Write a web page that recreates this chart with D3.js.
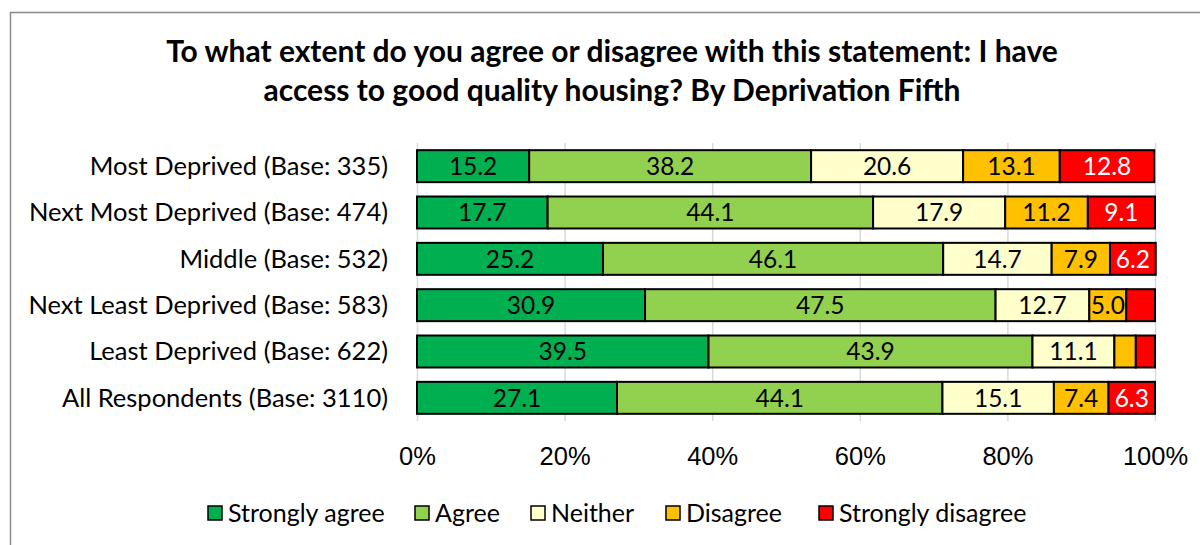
<!DOCTYPE html>
<html>
<head>
<meta charset="utf-8">
<style>
    body { margin: 0; background: #fff; }
    svg { font-family: Lato, 'Open Sans', sans-serif; }
    .grid line { stroke: #d9d9d9; stroke-width: 1.5; }
    .grid .domain { display: none; }
    .x .domain, .x .tick line { display: none; }
    .x .tick text { font-size: 25.5px; fill: #000; }
    .cat { font-size: 25.5px; fill: #000; }
    .title { font-size: 30px; font-weight: 700; fill: #000; }
    .val { font-size: 24.5px; }
    .legend text { font-size: 25px; fill: #000; }
</style>
</head>
<body>
<svg width="1200" height="545"></svg>
<script src="https://d3js.org/d3.v7.min.js"></script>
<script>
    let categories = [
        "Most Deprived (Base: 335)",
        "Next Most Deprived (Base: 474)",
        "Middle (Base: 532)",
        "Next Least Deprived (Base: 583)",
        "Least Deprived (Base: 622)",
        "All Respondents (Base: 3110)"
    ]
    let seriesNames = ["Strongly agree", "Agree", "Neither", "Disagree", "Strongly disagree"]
    let seriesColors = ["#00b050", "#92d050", "#ffffcc", "#ffc000", "#ff0000"]

    let stronglyAgree = [15.2, 17.7, 25.2, 30.9, 39.5, 27.1]
    let agree = [38.2, 44.1, 46.1, 47.5, 43.9, 44.1]
    let neither = [20.6, 17.9, 14.7, 12.7, 11.1, 15.1]
    let disagree = [13.1, 11.2, 7.9, 5.0, 2.9, 7.4]
    let stronglyDisagree = [12.8, 9.1, 6.2, 3.9, 2.6, 6.3]

    let xTicks = [0, 20, 40, 60, 80, 100]

    let seriesValues = [stronglyAgree, agree, neither, disagree, stronglyDisagree]

    // table for d3.stack
    let data = categories.map((c, i) => {
        let row = { cat: c }
        seriesNames.forEach((s, j) => row[s] = seriesValues[j][i])
        return row
    })

    let svg = d3.select("svg")

    // chart border
    svg.append("rect")
        .attr("x", 10.5).attr("y", 12.5)
        .attr("width", 1200).attr("height", 560)
        .attr("fill", "none").attr("stroke", "#898989").attr("stroke-width", 1.5)

    let margin = { top: 143, left: 417, right: 1155, bottom: 421 }

    let x = d3.scaleLinear().domain([0, 100]).range([margin.left, margin.right])
    let y = d3.scaleBand().domain(categories).range([margin.top, margin.bottom]).paddingInner(0.31).paddingOuter(0.155)

    let color = d3.scaleOrdinal().domain(seriesNames).range(seriesColors)

    // title
    svg.append("text").attr("class", "title").attr("x", 612).attr("y", 62).attr("text-anchor", "middle")
        .text("To what extent do you agree or disagree with this statement: I have")
    svg.append("text").attr("class", "title").attr("x", 612).attr("y", 101).attr("text-anchor", "middle")
        .text("access to good quality housing? By Deprivation Fifth")

    // gridlines
    svg.append("g").attr("class", "grid")
        .attr("transform", `translate(0,${margin.top})`)
        .call(d3.axisBottom(x).tickValues(xTicks).tickSize(margin.bottom - margin.top).tickFormat(""))

    // x axis labels
    svg.append("g").attr("class", "x axis")
        .attr("transform", `translate(0,${margin.bottom})`)
        .call(d3.axisBottom(x).tickValues(xTicks).tickSize(0).tickPadding(26).tickFormat(d => d + "%"))

    // category labels
    svg.append("g").selectAll("text")
        .data(categories)
        .join("text")
        .attr("class", "cat")
        .attr("x", 388)
        .attr("y", d => y(d) + y.bandwidth() / 2)
        .attr("dy", "0.35em")
        .attr("text-anchor", "end")
        .text(d => d)

    let stacked = d3.stack().keys(seriesNames)(data)

    let groups = svg.append("g").selectAll("g")
        .data(stacked)
        .join("g")
        .attr("fill", d => color(d.key))

    groups.selectAll("rect")
        .data(d => d)
        .join("rect")
        .attr("x", d => x(d[0]))
        .attr("y", d => y(d.data.cat))
        .attr("width", d => x(d[1]) - x(d[0]))
        .attr("height", y.bandwidth())
        .attr("stroke", "#000")
        .attr("stroke-width", 2)

    // value labels (small segments left unlabelled, as in the original)
    stacked.forEach(s => {
        svg.append("g").selectAll("text")
            .data(s.filter(d => d[1] - d[0] >= 4.5))
            .join("text")
            .attr("class", "val")
            .attr("x", d => (x(d[0]) + x(d[1])) / 2)
            .attr("y", d => y(d.data.cat) + y.bandwidth() / 2)
            .attr("dy", "0.36em")
            .attr("text-anchor", "middle")
            .attr("fill", s.key === "Strongly disagree" ? "#fff" : "#000")
            .text(d => d3.format(".1f")(d[1] - d[0]))
    })

    // legend
    let legendX = [208, 415, 531, 666, 819]
    let legend = svg.append("g").attr("class", "legend")
        .selectAll("g")
        .data(seriesNames)
        .join("g")
        .attr("transform", (d, i) => `translate(${legendX[i]},513)`)

    legend.append("rect")
        .attr("x", 0).attr("y", -7).attr("width", 14).attr("height", 14)
        .attr("fill", d => color(d)).attr("stroke", "#000").attr("stroke-width", 1.5)

    legend.append("text")
        .attr("x", 20).attr("dy", "0.35em")
        .text(d => d)
</script>
</body>
</html>
